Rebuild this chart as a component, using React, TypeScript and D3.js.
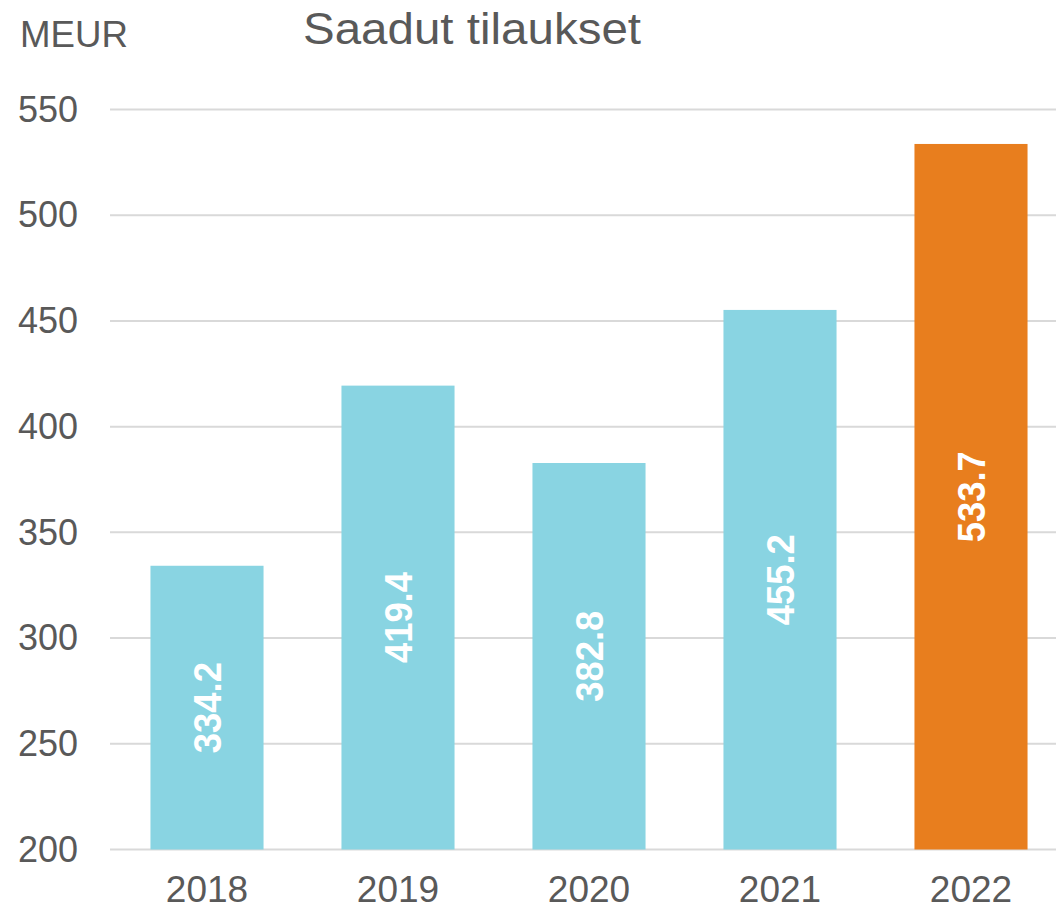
import React from "react";
import * as d3 from "d3";

const years = ["2018", "2019", "2020", "2021", "2022"];
const orders = [334.2, 419.4, 382.8, 455.2, 533.7];
const barColors = ["#89D4E2", "#89D4E2", "#89D4E2", "#89D4E2", "#E87E1E"];
const yTicks = [200, 250, 300, 350, 400, 450, 500, 550];
const title = "Saadut tilaukset";
const unit = "MEUR";

const W = 1056;
const H = 911;
const FONT = "'Liberation Sans', Arial, sans-serif";
const GRAY = "#595959";

export default function App() {
  const x = d3.scaleBand<string>().domain(years).range([111.5, 1066.5]).paddingInner(0.408).paddingOuter(0.204);
  const y = d3.scaleLinear().domain([200, 550]).range([849.5, 109.5]);

  return (
    <svg width={W} height={H} style={{ position: "absolute", left: 0, top: 0, background: "#fff" }} fontFamily={FONT}>
      <text x={20} y={47} fontSize={36} fill={GRAY} textLength={108} lengthAdjust="spacingAndGlyphs">{unit}</text>
      <text x={472} y={44} fontSize={44} fill={GRAY} textAnchor="middle" textLength={338} lengthAdjust="spacingAndGlyphs">{title}</text>
      {yTicks.map((t) => (
        <g key={t}>
          <line x1={110} x2={W} y1={y(t)} y2={y(t)} stroke="#D9D9D9" strokeWidth={2} />
          <text x={78} y={y(t)} dy="0.34em" fontSize={36} fill={GRAY} textAnchor="end">{t}</text>
        </g>
      ))}
      {years.map((yr, i) => {
        const x0 = x(yr)!;
        const cx = x0 + x.bandwidth() / 2;
        const top = y(orders[i]);
        const bottom = y(200);
        const mid = (top + bottom) / 2;
        return (
          <g key={yr}>
            <rect x={x0} y={top} width={x.bandwidth()} height={bottom - top} fill={barColors[i]} />
            <text
              transform={`translate(${cx},${mid}) rotate(-90)`}
              textAnchor="middle"
              dy="0.36em"
              fontSize={39}
              fontWeight="bold"
              fill="#fff"
              textLength={91}
              lengthAdjust="spacingAndGlyphs"
            >
              {orders[i].toFixed(1)}
            </text>
            <text x={cx} y={902} fontSize={37} fill={GRAY} textAnchor="middle">{yr}</text>
          </g>
        );
      })}
    </svg>
  );
}
